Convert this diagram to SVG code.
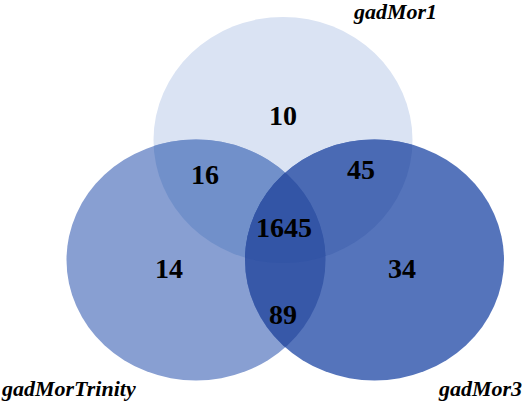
<svg xmlns="http://www.w3.org/2000/svg" width="524" height="402" viewBox="0 0 524 402">
<style>
.num{font-family:'Liberation Serif','Times New Roman',Tinos,'DejaVu Serif',serif;font-weight:700;font-size:28px;fill:#000;text-anchor:middle}
.lab{font-family:'Liberation Serif','Times New Roman',Tinos,'DejaVu Serif',serif;font-weight:700;font-style:italic;font-size:22px;fill:#000}
</style>
<defs>
<ellipse id="eT" cx="283" cy="140" rx="129.5" ry="123"/>
<ellipse id="eL" cx="196" cy="260" rx="129.5" ry="120.5"/>
<ellipse id="eR" cx="374.5" cy="260" rx="129.5" ry="120.5"/>
<clipPath id="cT"><use href="#eT"/></clipPath>
<clipPath id="cL"><use href="#eL"/></clipPath>
</defs>
<rect width="524" height="402" fill="#ffffff"/>
<g id="gadMor1">
<use href="#eT" fill="#DAE3F3"/>
<text class="lab" x="437" y="19" text-anchor="end">gadMor1</text>
</g>
<g id="gadMorTrinity">
<use href="#eL" fill="#889FD2"/>
<text class="lab" x="2" y="396">gadMorTrinity</text>
</g>
<g id="gadMor3">
<use href="#eR" fill="#5574BB"/>
<text class="lab" x="522" y="396" text-anchor="end">gadMor3</text>
</g>
<g id="overlaps">
<use href="#eL" fill="#7190CA" clip-path="url(#cT)"/>
<use href="#eR" fill="#4A6AB4" clip-path="url(#cT)"/>
<use href="#eR" fill="#3758A8" clip-path="url(#cL)"/>
<g clip-path="url(#cT)"><use href="#eR" fill="#3355A6" clip-path="url(#cL)"/></g>
</g>
<g id="counts">
<text class="num" x="283" y="125">10</text>
<text class="num" x="205" y="184">16</text>
<text class="num" x="361" y="179">45</text>
<text class="num" x="284" y="237">1645</text>
<text class="num" x="169" y="278">14</text>
<text class="num" x="402" y="278">34</text>
<text class="num" x="283" y="324">89</text>
</g>
</svg>
